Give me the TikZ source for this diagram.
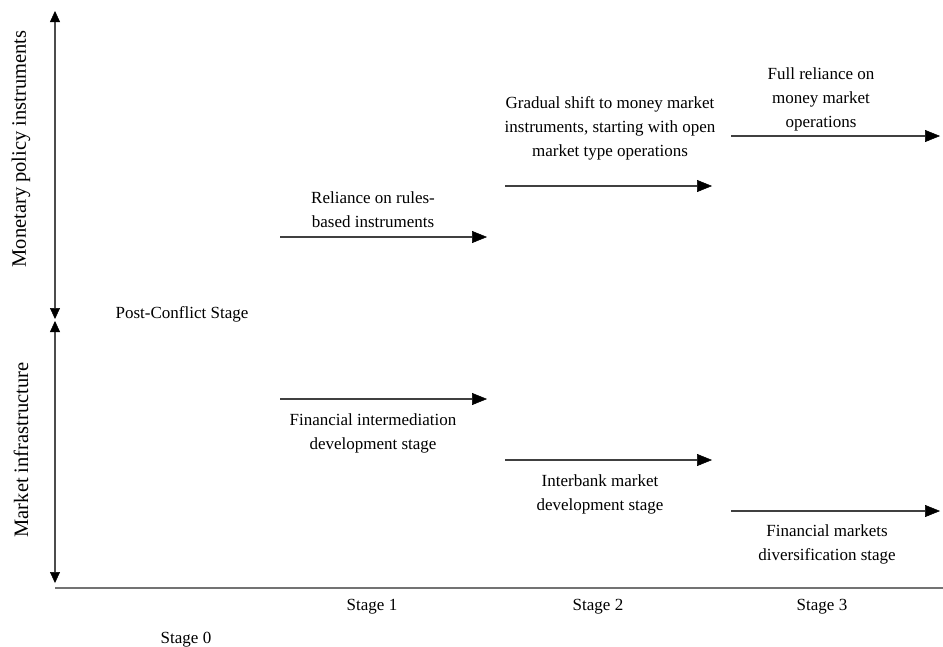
\documentclass[tikz,border=0pt]{standalone}
\usepackage{fontspec}
\setmainfont{Liberation Serif}
\usetikzlibrary{arrows.meta}
\begin{document}
\begin{tikzpicture}[x=1pt,y=-1pt,
  lbl/.style={inner sep=0pt,align=center,font=\fontsize{17}{24}\selectfont},
  side/.style={inner sep=0pt,rotate=90,font=\fontsize{20.5}{24}\selectfont},
  flow/.style={line width=1.8pt,draw=black!75,-{Triangle[length=15pt,width=12pt,color=black,line width=0.5pt]}},
  axis/.style={line width=1.8pt,draw=black!70,{Triangle[length=11pt,width=10pt,color=black,line width=0.5pt]}-{Triangle[length=11pt,width=10pt,color=black,line width=0.5pt]}}]
\useasboundingbox[fill=white] (0,0) rectangle (943,646);
% axes
\coordinate (vtop) at (55,11);
\coordinate (vmidA) at (55,319);
\coordinate (vmidB) at (55,321);
\coordinate (vbot) at (55,583);
\coordinate (h0) at (55,588);
\coordinate (h1) at (943,588);
\draw[axis] (vtop) -- (vmidA);
\draw[axis] (vmidB) -- (vbot);
\draw[line width=1.6pt,draw=black!55] (h0) -- (h1);
% side labels
\node[side] (mpi) at (21,149) {Monetary policy instruments};
\node[side] (mi) at (21,450) {Market infrastructure};
\node[lbl,anchor=base] (pcs) at (182,318) {Post-Conflict Stage};
% stage labels
\node[lbl,anchor=base] (s1) at (372,610) {Stage 1};
\node[lbl,anchor=base] (s2) at (598,610) {Stage 2};
\node[lbl,anchor=base] (s3) at (822,610) {Stage 3};
\node[lbl,anchor=base] (s0) at (186,643) {Stage 0};
% upper arrows
\coordinate (u1s) at (280,237); \coordinate (u1e) at (487,237);
\coordinate (u2s) at (505,186); \coordinate (u2e) at (712,186);
\coordinate (u3s) at (731,136); \coordinate (u3e) at (940,136);
\draw[flow] (u1s) -- (u1e);
\draw[flow] (u2s) -- (u2e);
\draw[flow] (u3s) -- (u3e);
\node[lbl,anchor=base] (t1) at (373,227) {Reliance on rules-\\based instruments};
\node[lbl,anchor=base] (t2) at (610,156) {Gradual shift to money market\\instruments, starting with open\\market type operations};
\node[lbl,anchor=base] (t3) at (821,127) {Full reliance on\\money market\\operations};
% lower arrows
\coordinate (l1s) at (280,399); \coordinate (l1e) at (487,399);
\coordinate (l2s) at (505,460); \coordinate (l2e) at (712,460);
\coordinate (l3s) at (731,511); \coordinate (l3e) at (940,511);
\draw[flow] (l1s) -- (l1e);
\draw[flow] (l2s) -- (l2e);
\draw[flow] (l3s) -- (l3e);
\node[lbl,anchor=base] (b1) at (373,449) {Financial intermediation\\development stage};
\node[lbl,anchor=base] (b2) at (600,510) {Interbank market\\development stage};
\node[lbl,anchor=base] (b3) at (827,560) {Financial markets\\diversification stage};
\end{tikzpicture}
\end{document}
